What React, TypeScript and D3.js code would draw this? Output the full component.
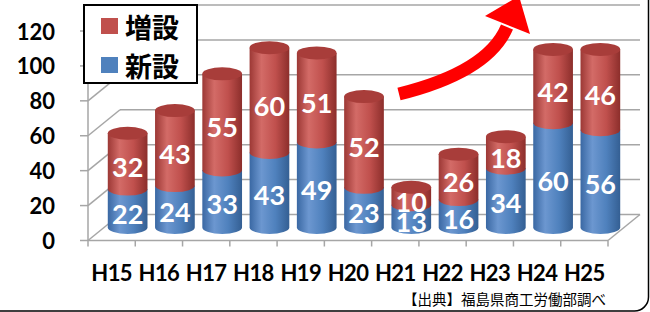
import React from 'react';
import * as d3 from 'd3';

const years = ['H15', 'H16', 'H17', 'H18', 'H19', 'H20', 'H21', 'H22', 'H23', 'H24', 'H25'];
const shinsetsu = [22, 24, 33, 43, 49, 23, 13, 16, 34, 60, 56];
const zousetsu = [32, 43, 55, 60, 51, 52, 10, 26, 18, 42, 46];
const legendLabels = ['増設', '新設'];
const yTicks = [0, 20, 40, 60, 80, 100, 120];
const sourceNote = '【出典】福島県商工労働部調べ';

const W = 650;
const H = 312;
const DX = 32;
const DY = -26;
const numFont = 'Lato, "Open Sans", sans-serif';
const jpFont = '"Noto Sans CJK JP", "Noto Sans", sans-serif';

export default function App() {
  const x = d3.scaleBand<string>().domain(years).range([88, 608]);
  const y = d3.scaleLinear().domain([0, 120]).range([240.5, 31]);
  const r = x.bandwidth() * 0.42;
  const ry = 6.5;
  const grid = '#a6a6a6';

  const series = [
    { key: 'blue', values: shinsetsu, top: '#4a78b2' },
    { key: 'red', values: zousetsu, top: '#a83d3a' },
  ];

  const cylBody = (cx: number, yTop: number, yBot: number) =>
    `M${cx - r},${yTop} L${cx - r},${yBot} A${r},${ry} 0 0 0 ${cx + r},${yBot} L${cx + r},${yTop} Z`;

  const arrowBody = d3.path();
  arrowBody.moveTo(399, 94);
  arrowBody.quadraticCurveTo(488, 72, 507, 27);

  return (
    <svg width={W} height={H} style={{ position: 'fixed', left: 0, top: 0, background: '#fff' }}>
      <defs>
        <linearGradient id="g-red" x1="0" x2="1" y1="0" y2="0">
          <stop offset="0" stopColor="#9c3835" />
          <stop offset="0.3" stopColor="#d36b67" />
          <stop offset="0.65" stopColor="#c0504d" />
          <stop offset="1" stopColor="#8c2e2b" />
        </linearGradient>
        <linearGradient id="g-blue" x1="0" x2="1" y1="0" y2="0">
          <stop offset="0" stopColor="#3a68a3" />
          <stop offset="0.3" stopColor="#6c97d0" />
          <stop offset="0.65" stopColor="#4f81bd" />
          <stop offset="1" stopColor="#345f93" />
        </linearGradient>
      </defs>

      {/* walls and floor */}
      <g stroke={grid} strokeWidth={1.5} fill="none">
        {yTicks.map((v) => (
          <g key={v}>
            <line x1={88 + DX} x2={608 + DX} y1={y(v) + DY} y2={y(v) + DY} />
            <line x1={88} x2={88 + DX} y1={y(v)} y2={y(v) + DY} />
            <line x1={80} x2={88} y1={y(v)} y2={y(v)} />
          </g>
        ))}
        <line x1={88} x2={88} y1={y(120)} y2={y(0)} />
        <line x1={88} x2={608} y1={y(0)} y2={y(0)} />
        <line x1={608} x2={608 + DX} y1={y(0)} y2={y(0) + DY} />
        {years.map((yr) => (
          <line key={yr} x1={x(yr)!} x2={x(yr)!} y1={y(0)} y2={y(0) + 6} />
        ))}
        <line x1={608} x2={608} y1={y(0)} y2={y(0) + 6} />
      </g>

      {/* cylinders */}
      {years.map((yr, i) => {
        const cx = x(yr)! + x.bandwidth() / 2 + DX / 2;
        const off = -DY / 2;
        let acc = 0;
        return (
          <g key={yr}>
            {series.map((s, k) => {
              const v = s.values[i];
              const yBot = y(acc) - off;
              const yTop = y(acc + v) - off;
              acc += v;
              const isTop = k === series.length - 1;
              return (
                <g key={s.key}>
                  <path d={cylBody(cx, yTop, yBot)} fill={`url(#g-${s.key})`} />
                  {isTop && <ellipse cx={cx} cy={yTop} rx={r} ry={ry} fill={s.top} />}
                </g>
              );
            })}
          </g>
        );
      })}

      {/* value labels */}
      {years.map((yr, i) => {
        const cx = x(yr)! + x.bandwidth() / 2 + DX / 2;
        const off = -DY / 2;
        let acc = 0;
        return series.map((s) => {
          const v = s.values[i];
          const mid = (y(acc) + y(acc + v)) / 2 - off + 5;
          acc += v;
          return (
            <text key={yr + s.key} x={cx} y={mid} textAnchor="middle" dominantBaseline="central"
              fontFamily={numFont} fontWeight="bold" fontSize={27} fill="#fff">{v}</text>
          );
        });
      })}

      {/* y axis labels */}
      {yTicks.map((v) => (
        <text key={v} x={55} y={y(v)} textAnchor="end" dominantBaseline="central"
          fontFamily={numFont} fontWeight="bold" fontSize={22} fill="#000">{v}</text>
      ))}

      {/* x axis labels */}
      {years.map((yr) => (
        <text key={yr} x={x(yr)! + x.bandwidth() / 2} y={272} textAnchor="middle" dominantBaseline="central"
          fontFamily={numFont} fontWeight="bold" fontSize={22} letterSpacing={-0.6} fill="#000">{yr}</text>
      ))}

      <text x={606} y={305} textAnchor="end" fontFamily={jpFont} fontSize={14.5} fill="#000">{sourceNote}</text>

      {/* legend */}
      <rect x={84} y={5} width={113} height={78} fill="#fff" stroke="#000" strokeWidth={2} />
      {legendLabels.map((lbl, i) => (
        <g key={lbl} transform={`translate(101, ${18 + i * 39})`}>
          <rect width={17} height={16} fill={i === 0 ? '#c0504d' : '#4f81bd'} />
          <text x={24} y={8.5} dominantBaseline="central" fontFamily={jpFont} fontWeight="bold" fontSize={27} fill="#000">{lbl}</text>
        </g>
      ))}

      {/* arrow */}
      <path d={arrowBody.toString()} fill="none" stroke="#ff0000" strokeWidth={13} />
      <polygon points="485,16 530,34 519,-4" fill="#ff0000" />

      {/* outer frame */}
      <rect x={-20} y={-20} width={668.5} height={331} rx={14} fill="none" stroke="#000" strokeWidth={1.5} />
    </svg>
  );
}
